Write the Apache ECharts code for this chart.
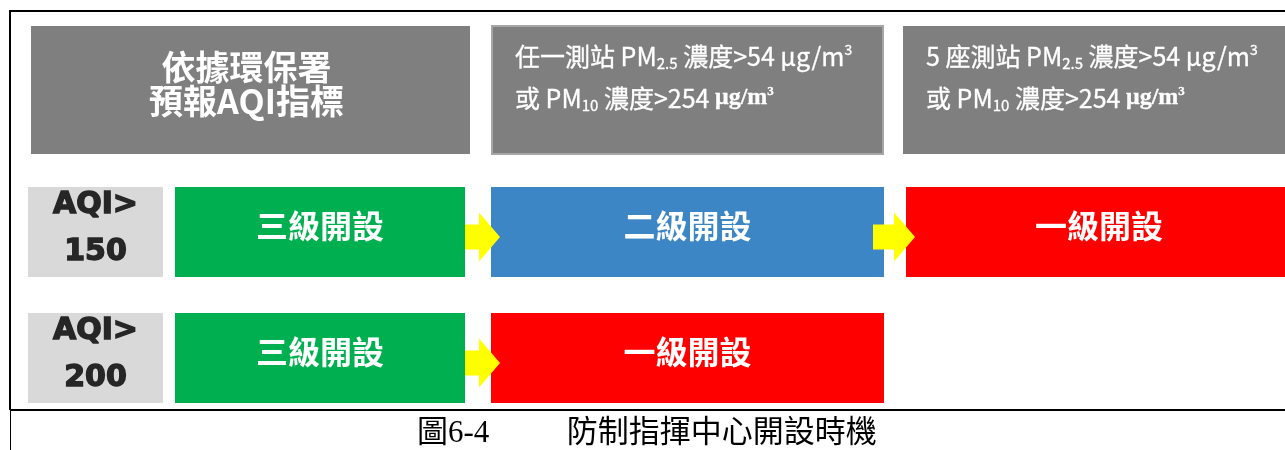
<!DOCTYPE html>
<html>
<head>
<meta charset="utf-8">
<script src="https://cdn.jsdelivr.net/npm/echarts@6/dist/echarts.min.js"></script>
<style>
  html, body { margin: 0; padding: 0; background: #fff; }
  #chart { width: 1285px; height: 450px; }
</style>
</head>
<body>
<div id="chart"></div>
<script>
// ---- data ----
const headerTitle = ['依據環保署', '預報AQI指標'];
const stationScopes = ['任一測站', '5 座測站'];
const pm25Limit = 54;
const pm10Limit = 254;
const aqiThresholds = [150, 200];
const stageRows = [
  ['三級開設', '二級開設', '一級開設'],
  ['三級開設', '一級開設']
];
const captionParts = ['圖6-4', '防制指揮中心開設時機'];

// ---- layout (axis units = px on a full-size hidden grid) ----
const colEdges = [[28, 163], [175, 465], [491, 884], [906, 1292]];
const headEdges = [[31, 470], [492, 883], [903, 1292]];
const rowEdges = [[26, 154], [187, 277], [313, 403]];
const stageColor = { '三級開設': '#00b050', '二級開設': '#3c86c6', '一級開設': '#ff0000' };
const cjk = '"Noto Sans CJK TC", "Noto Sans", sans-serif';

function box(api, x0, x1, y0, y1) {
  const p0 = api.coord([x0, y0]);
  const p1 = api.coord([x1, y1]);
  return { x: p0[0], y: p0[1], width: p1[0] - p0[0], height: p1[1] - p0[1] };
}

function conditionText(scope) {
  return '{t|' + scope + ' PM}{sub|2.5}{t| 濃度>' + pm25Limit + ' μg/m}{sup|3}\n' +
    '{t|或 PM}{sub|10}{t| 濃度>' + pm10Limit + ' }{u|μg/m}{usup|3}';
}

const headerData = [[0, 0], [1, 0], [2, 0]];
const labelData = aqiThresholds.map((v, i) => [0, i + 1]);
const stageData = [];
stageRows.forEach((row, r) => {
  row.forEach((name, c) => stageData.push({ value: [c + 1, r + 1], name: name }));
});

function renderHeader(params, api) {
  const i = params.dataIndex;
  const e = headEdges[i];
  const rr = rowEdges[0];
  const b = box(api, e[0], e[1], rr[0], rr[1]);
  const children = [{
    type: 'rect', shape: b,
    style: { fill: '#7f7f7f', stroke: i === 1 ? '#a6a6a6' : null, lineWidth: 2 }
  }];
  if (i === 0) {
    children.push({
      type: 'text', x: b.x + b.width / 2 - 4, y: b.y + b.height / 2 - 6,
      style: {
        text: headerTitle.join('\n'), fill: '#fff', fontSize: 34, fontWeight: 'bold',
        fontFamily: cjk, align: 'center', verticalAlign: 'middle', lineHeight: 34
      }
    });
  } else {
    const t = { fill: '#fff', fontSize: 25, fontFamily: cjk, lineHeight: 42, verticalAlign: 'middle' };
    children.push({
      type: 'text', x: b.x + 23, y: b.y + 9,
      style: {
        text: conditionText(stationScopes[i - 1]), fill: '#fff', fontSize: 25, fontFamily: cjk,
        align: 'left', verticalAlign: 'top', lineHeight: 42,
        stroke: '#fff', lineWidth: 0.3,
        rich: {
          t: t,
          sub: { fill: '#fff', fontSize: 15, fontFamily: cjk, lineHeight: 15, padding: [14, 0, 0, 0], verticalAlign: 'middle' },
          sup: { fill: '#fff', fontSize: 14, fontFamily: cjk, lineHeight: 14, padding: [0, 0, 13, 0], verticalAlign: 'middle' },
          u: { fill: '#fff', fontSize: 24, fontWeight: 'bold', fontFamily: '"Liberation Serif", serif', lineHeight: 42, verticalAlign: 'middle' },
          usup: { fill: '#fff', fontSize: 13, fontWeight: 'bold', fontFamily: '"Liberation Serif", serif', lineHeight: 13, padding: [0, 0, 13, 0], verticalAlign: 'middle' }
        }
      }
    });
  }
  return { type: 'group', children: children };
}

function renderLabel(params, api) {
  const i = params.dataIndex;
  const e = colEdges[0];
  const rr = rowEdges[i + 1];
  const b = box(api, e[0], e[1], rr[0], rr[1]);
  return {
    type: 'group',
    children: [
      { type: 'rect', shape: b, style: { fill: '#d9d9d9' } },
      {
        type: 'text', x: b.x + b.width / 2, y: b.y + b.height / 2 - 3,
        style: {
          text: 'AQI>\n' + aqiThresholds[i], fill: '#262626', fontSize: 30, fontWeight: 'bold',
          fontFamily: '"DejaVu Sans", sans-serif', align: 'center', verticalAlign: 'middle', lineHeight: 47,
          stroke: '#262626', lineWidth: 1.4
        }
      }
    ]
  };
}

function renderStage(params, api) {
  const c = api.value(0);
  const r = api.value(1);
  const name = stageData[params.dataIndex].name;
  const e = colEdges[c];
  const rr = rowEdges[r];
  const b = box(api, e[0], e[1], rr[0], rr[1]);
  const children = [
    { type: 'rect', shape: b, style: { fill: stageColor[name] } },
    {
      type: 'text', x: b.x + b.width / 2, y: b.y + b.height / 2 - 6,
      style: {
        text: name, fill: '#fff', fontSize: 32, fontWeight: 'bold', fontFamily: cjk,
        align: 'center', verticalAlign: 'middle'
      }
    }
  ];
  if (c > 1) {
    // yellow arrow from the previous stage into this one
    const prev = box(api, colEdges[c - 1][0], colEdges[c - 1][1], rr[0], rr[1]);
    const start = prev.x + prev.width - (c === 3 ? 11 : 0);
    const tip = b.x + 9;
    const headStart = tip - 21;
    const cy = b.y + b.height / 2 + 5;
    children.push({
      type: 'polygon',
      shape: {
        points: [
          [start, cy - 12.5], [headStart, cy - 12.5], [headStart, cy - 24.5], [tip, cy],
          [headStart, cy + 24.5], [headStart, cy + 12.5], [start, cy + 12.5]
        ]
      },
      style: { fill: '#ffff00' }
    });
  }
  return { type: 'group', children: children };
}

const chart = echarts.init(document.getElementById('chart'));
const option = {
  animation: false,
  backgroundColor: '#fff',
  title: {
    text: captionParts.join('\u3000\u3000  '),
    left: 417,
    top: 418,
    padding: 0,
    textStyle: {
      fontSize: 31,
      fontWeight: 'normal',
      color: '#000',
      fontFamily: '"Liberation Serif", "Noto Sans CJK TC", serif'
    }
  },
  grid: { left: 0, right: 0, top: 0, bottom: 0 },
  xAxis: { type: 'value', min: 0, max: 1285, show: false },
  yAxis: { type: 'value', min: 0, max: 450, inverse: true, show: false },
  graphic: [
    { type: 'line', shape: { x1: 10, y1: 11, x2: 1285, y2: 11 }, style: { stroke: '#000', lineWidth: 2 } },
    { type: 'line', shape: { x1: 10, y1: 10, x2: 10, y2: 410 }, style: { stroke: '#000', lineWidth: 2 } },
    { type: 'line', shape: { x1: 10, y1: 410, x2: 1285, y2: 410 }, style: { stroke: '#000', lineWidth: 2 } },
    { type: 'line', shape: { x1: 10.5, y1: 410, x2: 10.5, y2: 450 }, style: { stroke: '#000', lineWidth: 1 } }
  ],
  series: [
    { type: 'custom', name: 'header', renderItem: renderHeader, data: headerData, silent: true },
    { type: 'custom', name: 'label', renderItem: renderLabel, data: labelData, silent: true },
    { type: 'custom', name: 'stage', renderItem: renderStage, data: stageData, silent: true }
  ]
};
chart.setOption(option);
</script>
</body>
</html>
